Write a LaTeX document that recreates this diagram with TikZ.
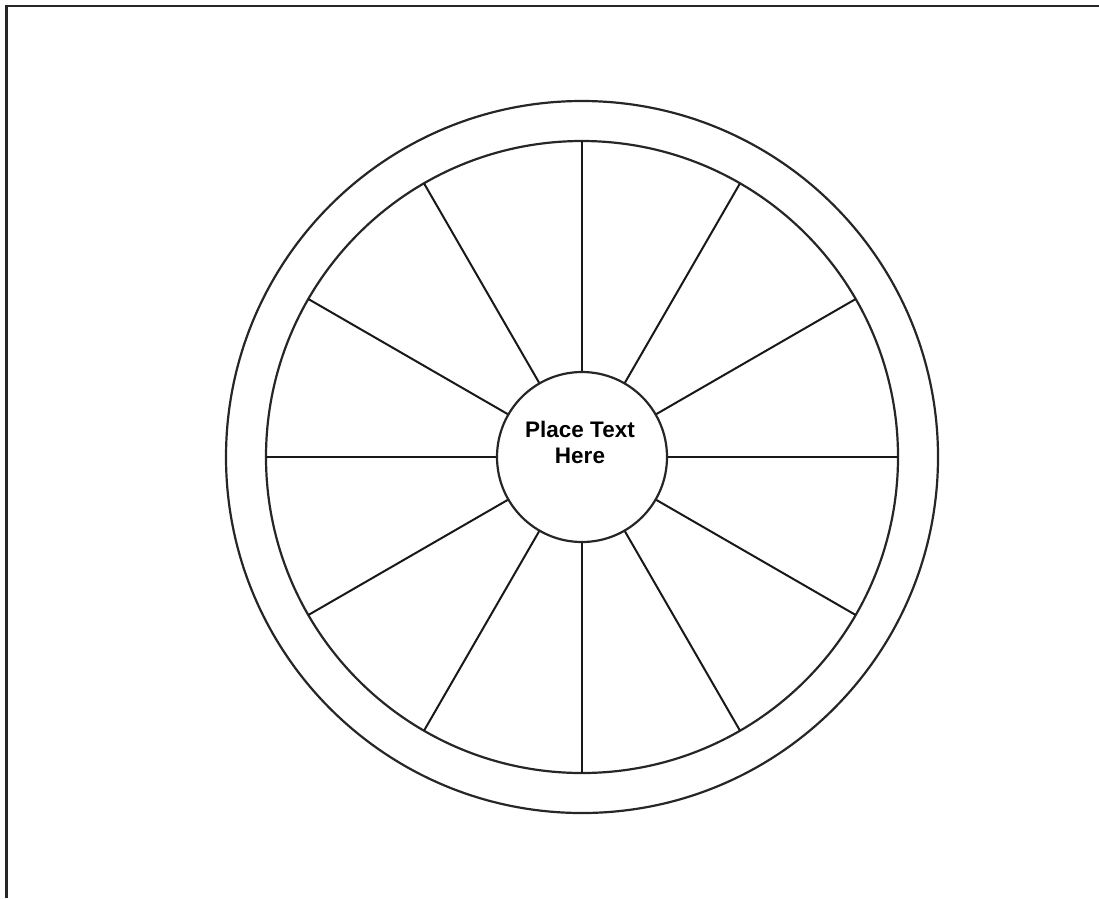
\documentclass[tikz,border=0pt]{standalone}
\usepackage{fontspec}
\setmainfont{Liberation Sans}
\usetikzlibrary{calc}
\begin{document}
\begin{tikzpicture}[x=1pt,y=-1pt,
  ring/.style={draw=black!85,line width=2.2pt},
  spoke/.style={draw=black!90,line width=2pt},
  label/.style={font=\bfseries\fontsize{22.5}{26}\selectfont,align=center,text=black}]
\useasboundingbox (0,0) rectangle (1099,898);
\draw[line width=2.2pt,black!85] (6.5,898) -- (6.5,6) -- (1099,6);
\coordinate (c) at (582,457);
\draw[ring] (c) circle[radius=356];
\draw[ring] (c) circle[radius=316];
\foreach \a in {0,30,...,330}{
  \draw[spoke] ($(c)+(\a:85)$) -- ($(c)+(\a:316)$);
}
\node[circle,ring,minimum size=170pt,inner sep=0pt] (hub) at (c) {};
\node[label] (t) at (580,442) {Place Text\\Here};
\end{tikzpicture}
\end{document}
